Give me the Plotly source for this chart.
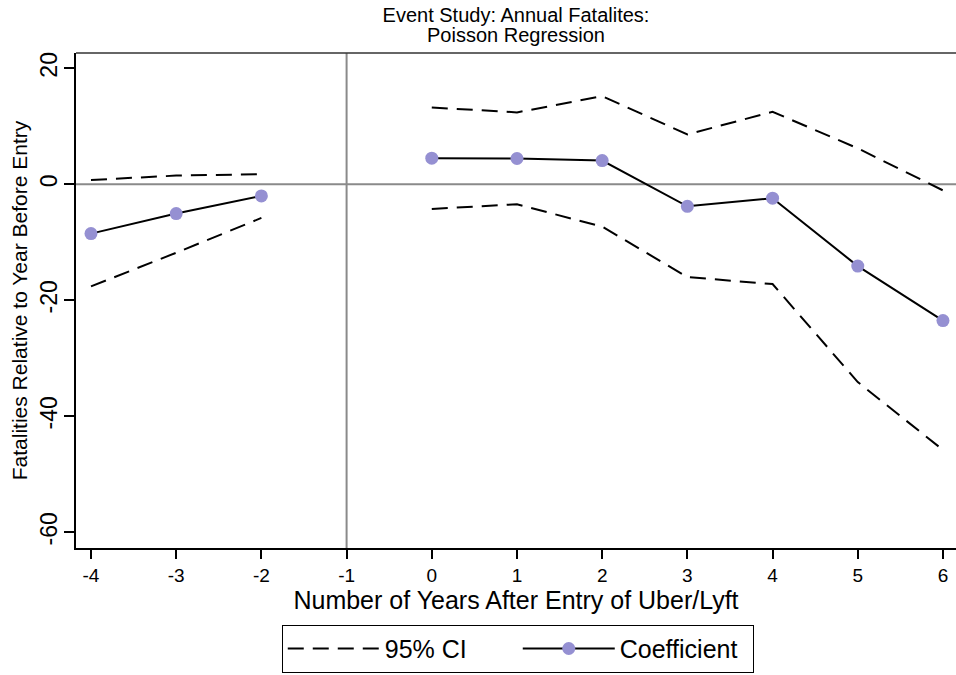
import plotly.graph_objects as go

years = [-4, -3, -2, -1, 0, 1, 2, 3, 4, 5, 6]
coef = [-8.5, -5.05, -2.0, None, 4.5, 4.45, 4.1, -3.8, -2.4, -14.1, -23.5]
ci_upper = [0.75, 1.5, 1.75, None, 13.25, 12.4, 15.2, 8.6, 12.5, 6.2, -1.05]
ci_lower = [-17.6, -11.8, -5.8, None, -4.25, -3.45, -7.3, -16.0, -17.2, -34.1, -45.8]

y_ticks = [20, 0, -20, -40, -60]
x_ticks = [-4, -3, -2, -1, 0, 1, 2, 3, 4, 5, 6]

title_line1 = "Event Study: Annual Fatalites:"
title_line2 = "Poisson Regression"

FONT = "Liberation Sans, Arial, sans-serif"
MARKER = "#9590d2"
REF = "#8a8a8a"

fig = go.Figure()

fig.add_trace(go.Scatter(
    x=years, y=ci_upper, mode="lines", name="95% CI", legendgroup="ci",
    line=dict(color="black", width=2, dash="16px,9px"), connectgaps=False,
))
fig.add_trace(go.Scatter(
    x=years, y=ci_lower, mode="lines", name="95% CI", legendgroup="ci", showlegend=False,
    line=dict(color="black", width=2, dash="16px,9px"), connectgaps=False,
))
fig.add_trace(go.Scatter(
    x=years, y=coef, mode="lines+markers", name="Coefficient",
    line=dict(color="black", width=2),
    marker=dict(color=MARKER, size=13, line=dict(width=0)), connectgaps=False,
))

# reference lines
fig.add_hline(y=0, line=dict(color=REF, width=2), layer="below")
fig.add_vline(x=-1, line=dict(color=REF, width=2), layer="below")
# top frame line
fig.add_shape(type="line", xref="paper", yref="paper", x0=0, x1=1, y0=1, y1=1,
              line=dict(color="#333333", width=1.5))

fig.add_annotation(text=title_line2, xref="paper", yref="paper",
                   x=0.5, y=1 + (53 - 35) / 495, xanchor="center", yanchor="middle",
                   showarrow=False, font=dict(size=20, color="black"))

fig.update_layout(
    width=956, height=675,
    margin=dict(l=76, r=0, t=53, b=127),
    plot_bgcolor="white", paper_bgcolor="white",
    font=dict(family=FONT, color="black"),
    title=dict(text=title_line1,
               x=0.5, xref="paper", xanchor="center",
               y=1 - 14.5 / 675, yref="container", yanchor="middle",
               font=dict(size=20, color="black")),
    showlegend=True,
    legend=dict(orientation="h", x=0.502, xanchor="center", y=-0.155, yanchor="top",
                bordercolor="black", borderwidth=1, font=dict(size=25),
                itemwidth=92, entrywidth=128, entrywidthmode="pixels",
                traceorder="normal"),
)

fig.update_xaxes(
    range=[-4.176, 6.153], tickmode="array", tickvals=x_ticks,
    ticktext=[str(v) for v in x_ticks],
    showgrid=False, zeroline=False, showline=True, linecolor="black", linewidth=2,
    ticks="outside", ticklen=9, tickwidth=1.5, tickcolor="black",
    tickfont=dict(size=19),
    title=dict(text="Number of Years After Entry of Uber/Lyft", font=dict(size=25), standoff=2),
)
fig.update_yaxes(
    range=[-62.71, 22.64], tickmode="array", tickvals=y_ticks,
    ticktext=[str(v) for v in y_ticks],
    showgrid=False, zeroline=False, showline=True, linecolor="black", linewidth=2,
    ticks="outside", ticklen=10, tickwidth=1.5, tickcolor="black",
    tickangle=-90, tickfont=dict(size=23), ticklabelstandoff=-2,
    title=dict(text="Fatalities Relative to Year Before Entry", font=dict(size=21), standoff=2),
)

fig.write_html("out.html")
